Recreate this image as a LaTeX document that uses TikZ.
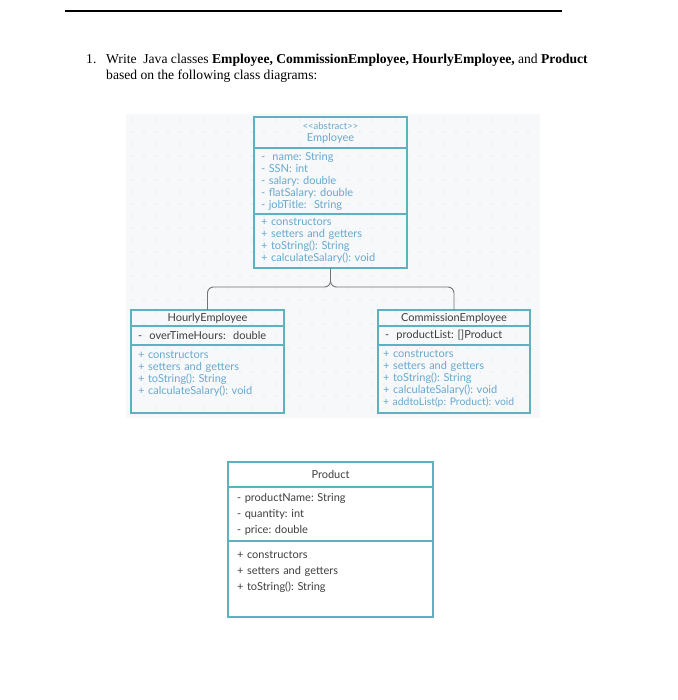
\documentclass[tikz,border=0pt]{standalone}
\usepackage{fontspec}
\setmainfont{Liberation Serif}
\newfontfamily\umlfont{Lato}
\usetikzlibrary{positioning, calc}
\frenchspacing
\definecolor{umlteal}{RGB}{92,178,190}
\definecolor{umlblue}{RGB}{104,168,206}
\definecolor{umldark}{RGB}{62,62,62}
\definecolor{gridbg}{RGB}{247,248,250}
\definecolor{griddot}{RGB}{212,216,222}
\tikzset{
  classhead/.style={draw=umlteal, line width=1.2pt, outer sep=0pt, align=center, inner xsep=7pt, inner ysep=3pt, font=\umlfont\fontsize{11}{12}\selectfont, text=umldark},
  classpart/.style={draw=umlteal, line width=1.2pt, outer sep=0pt, align=left, inner xsep=7pt, inner ysep=3pt, font=\umlfont\fontsize{11}{12}\selectfont, text=umlblue},
  prodpart/.style={classpart, inner xsep=9pt, font=\umlfont\fontsize{11}{16}\selectfont, text=umldark},
  link/.style={draw=black!55, line width=0.9pt, rounded corners=6pt},
  task/.style={font=\fontsize{13.6}{15.5}\selectfont, inner sep=0pt, anchor=base west}
}

\begin{document}
\begin{tikzpicture}[x=1pt, y=-1pt]
    \useasboundingbox (0,0) rectangle (677,700);
    \draw[line width=1.6pt] (65,11) -- (562,11);

    \node[task] (num) at (86,64) {1.};
    \node[task] (q1) at (106,64) {Write \ Java classes \textbf{Employee, CommissionEmployee, HourlyEmployee,} and \textbf{Product}};
    \node[task] (q1b) at (106,79.5) {based on the following class diagrams:};

    % dotted canvas
    \fill[gridbg] (126,114) rectangle (540,418);
    \foreach \x in {132,144,...,534}
      \foreach \y in {120,132,...,412}
        \fill[griddot] (\x,\y) circle (0.6pt);

    % abstract class
    \node[classhead, text=umlblue, text width=139pt, minimum height=31pt, anchor=north] (emp) at (330.5,117) {{\fontsize{9.5}{12}\selectfont <{}<abstract>{}>}\\Employee};
    \node[classpart, text width=139pt, minimum height=66pt, below=0pt of emp] (empattr) {- \ name: String\\- SSN: int\\- salary: double\\- flatSalary: double\\- jobTitle: \ String};
    \node[classpart, text width=139pt, minimum height=54pt, below=0pt of empattr] (empmeth) {+ constructors\\+ setters and getters\\+ toString(): String\\+ calculateSalary(): void};

    % subclasses
    \node[classhead, text width=139pt, minimum height=16pt, below=42pt of empmeth.south, xshift=-123pt] (hourly) {HourlyEmployee};
    \node[classpart, text=umldark, text width=139pt, minimum height=19pt, below=0pt of hourly] (hourlyattr) {- \ overTimeHours: \ double};
    \node[classpart, text width=139pt, minimum height=68pt, below=0pt of hourlyattr] (hourlymeth) {+ constructors\\+ setters and getters\\+ toString(): String\\+ calculateSalary(): void\\\mbox{}};

    \node[classhead, text width=138pt, minimum height=16pt, below=42pt of empmeth.south, xshift=123.5pt] (comm) {CommissionEmployee};
    \node[classpart, text=umldark, text width=138pt, minimum height=19pt, below=0pt of comm] (commattr) {- \ productList: []Product};
    \node[classpart, text width=142pt, inner xsep=5pt, minimum height=68pt, below=0pt of commattr] (commmeth) {+ constructors\\+ setters and getters\\+ toString(): String\\+ calculateSalary(): void\\\mbox{\fontsize{10.4}{12}\selectfont + addtoList(p: Product): void}};

    % product
    \node[classhead, text width=187pt, minimum height=25pt, inner xsep=9pt, anchor=north] (prod) at (330.5,462) {Product};
    \node[prodpart, text width=187pt, minimum height=54pt, below=0pt of prod] (prodattr) {- productName: String\\- quantity: int\\- price: double};
    \node[prodpart, text width=187pt, minimum height=76pt, below=0pt of prodattr] (prodmeth) {+ constructors\\+ setters and getters\\+ toString(): String\\\mbox{}};

    \coordinate (fork) at ($(empmeth.south)+(0,19)$);
    \draw[link] (empmeth.south) |- (fork -| hourly.north) -- (hourly.north);
    \draw[link] (empmeth.south) |- (fork -| comm.north) -- (comm.north);
\end{tikzpicture}
\end{document}
